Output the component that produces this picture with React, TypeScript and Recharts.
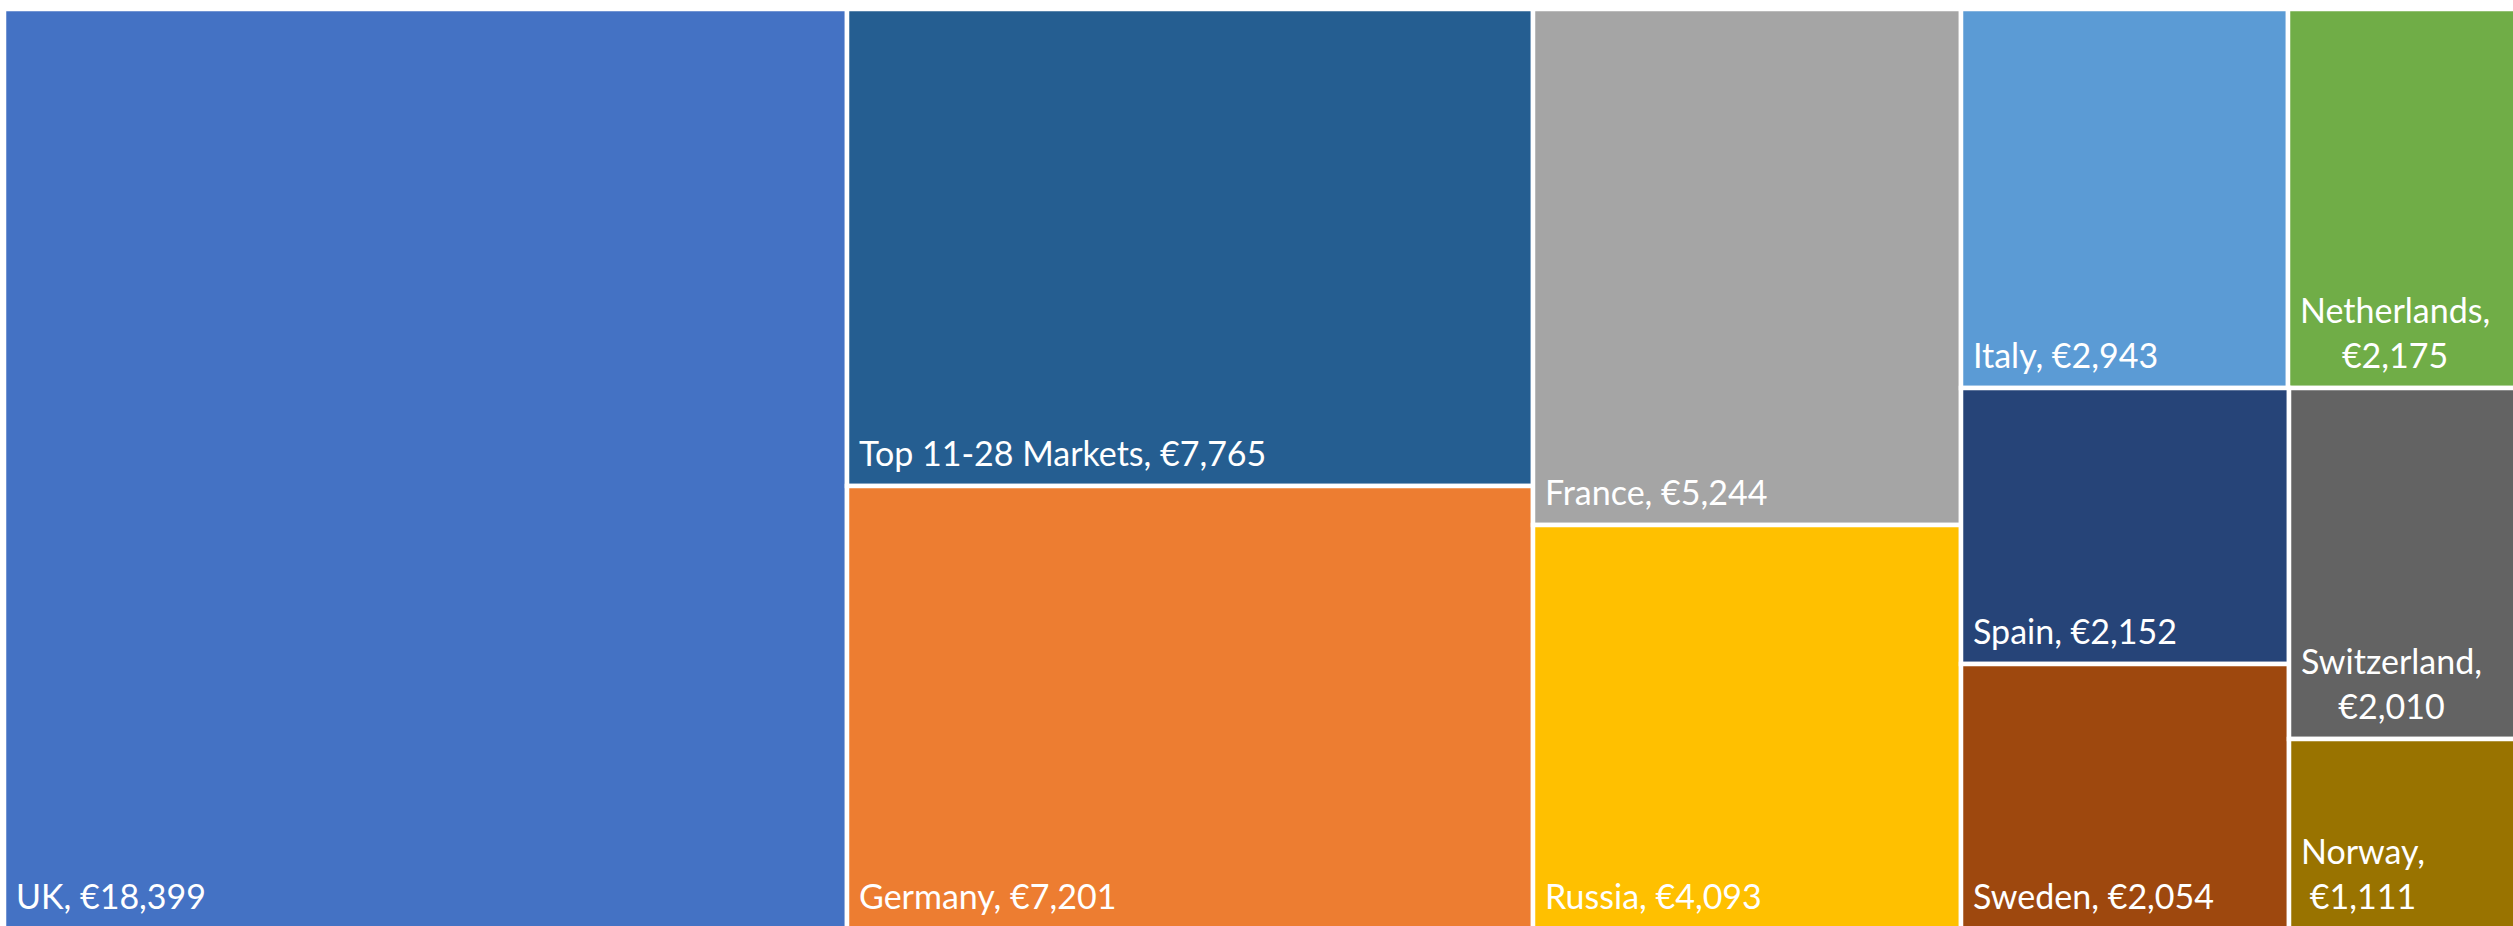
import React from "react";
import { Treemap } from "recharts";

// market revenue, in the order the treemap lays them out
const markets = [
  "UK",
  "Top 11-28 Markets",
  "Germany",
  "France",
  "Russia",
  "Italy",
  "Netherlands",
  "Spain",
  "Sweden",
  "Switzerland",
  "Norway",
];
const revenue = [18399, 7765, 7201, 5244, 4093, 2943, 2175, 2152, 2054, 2010, 1111];
const colors = [
  "#4472C4",
  "#255E91",
  "#ED7D31",
  "#A5A5A5",
  "#FFC000",
  "#5B9BD5",
  "#70AD47",
  "#264478",
  "#9E480E",
  "#636363",
  "#997300",
];

const data = markets.map((name, i) => ({ name, size: revenue[i] }));

const FONT = "Lato";
const FONT_SIZE = 34;
const PAD = 12;
const LINE_GAP = 45;

let ctx: CanvasRenderingContext2D | null = null;
function measure(text: string) {
  if (!ctx) ctx = document.createElement("canvas").getContext("2d");
  if (!ctx) return text.length * FONT_SIZE * 0.55;
  ctx.font = `${FONT_SIZE}px ${FONT}`;
  return ctx.measureText(text).width;
}

const money = (v: number) => "€" + v.toLocaleString("en-US");

function renderCell(props: any) {
  const { x, y, width, height, depth, index, name, value } = props;
  if (depth !== 1) return <g />;
  const first = `${name},`;
  const second = money(value);
  const full = `${first} ${second}`;
  const bottom = y + height - 20;
  const wrap = measure(full) > width - 2 * PAD;
  const w1 = measure(first);
  return (
    <g>
      <rect x={x} y={y} width={width} height={height} fill={colors[index]} stroke="#fff" strokeWidth={4.5} />
      {wrap ? (
        <text fill="#fff" fontFamily={FONT} fontSize={FONT_SIZE}>
          <tspan x={x + PAD} y={bottom - LINE_GAP} textAnchor="start">
            {first}
          </tspan>
          <tspan x={x + PAD + w1 / 2} y={bottom} textAnchor="middle">
            {second}
          </tspan>
        </text>
      ) : (
        <text x={x + PAD} y={bottom} fill="#fff" fontFamily={FONT} fontSize={FONT_SIZE}>
          {full}
        </text>
      )}
    </g>
  );
}

export default function App() {
  return (
    <div style={{ position: "fixed", inset: 0, overflow: "hidden", background: "#fff" }}>
      <div style={{ position: "absolute", left: 4, top: 9 }}>
        <Treemap
          width={2526}
          height={920}
          data={data}
          dataKey="size"
          nameKey="name"
          aspectRatio={1}
          isAnimationActive={false}
          content={renderCell}
        />
      </div>
    </div>
  );
}
